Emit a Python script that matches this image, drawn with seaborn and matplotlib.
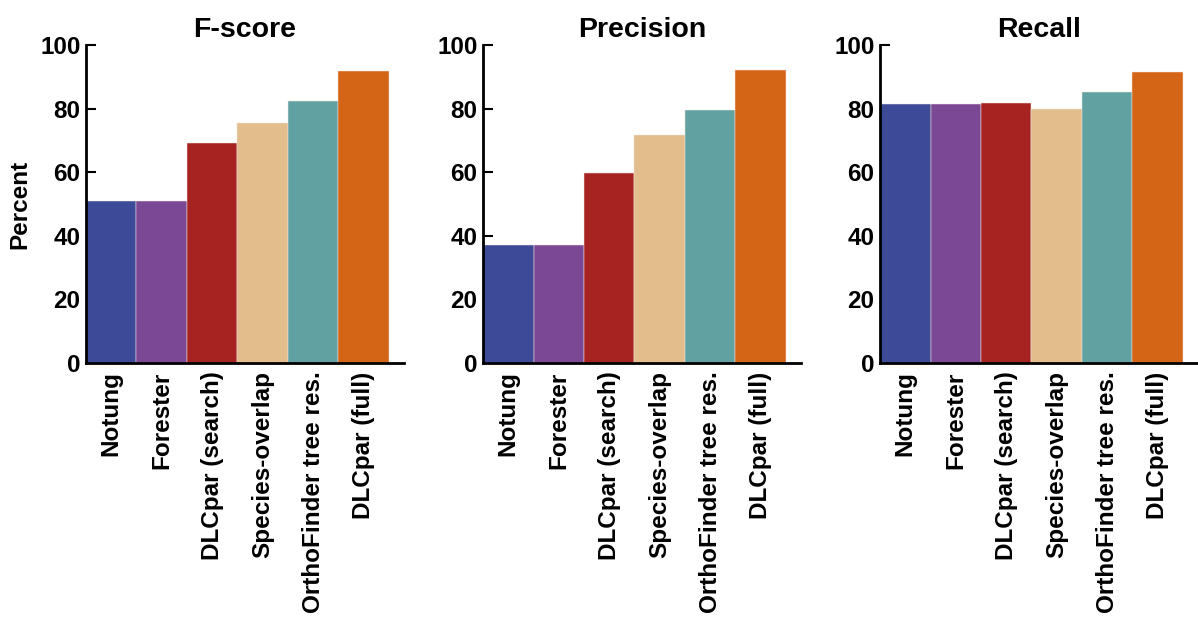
import pandas as pd
import matplotlib
matplotlib.use('Agg')
import matplotlib.pyplot as plt
import seaborn as sns

methods = ['Notung', 'Forester', 'DLCpar (search)', 'Species-overlap',
           'OrthoFinder tree res.', 'DLCpar (full)']
fscore = [50.9, 50.9, 69.1, 75.6, 82.3, 91.9]
precision = [37.1, 37.1, 59.8, 71.7, 79.6, 92.3]
recall = [81.4, 81.4, 81.7, 80.0, 85.3, 91.6]
titles = ['F-score', 'Precision', 'Recall']
colors = ['#3d4a98', '#7b4896', '#a62322', '#e3bd8c', '#62a1a2', '#d46416']

sns.set_style('white')
plt.rcParams['font.family'] = ['Liberation Sans', 'DejaVu Sans']
plt.rcParams['font.weight'] = 'bold'
plt.rcParams['text.color'] = 'black'
plt.rcParams['axes.labelcolor'] = 'black'
plt.rcParams['xtick.color'] = 'black'
plt.rcParams['ytick.color'] = 'black'

fig = plt.figure(figsize=(11.98, 6.28), dpi=100)
lefts = [0.0718, 0.4032, 0.7346]

for i, (vals, title) in enumerate(zip([fscore, precision, recall], titles)):
    ax = fig.add_axes([lefts[i], 0.422, 0.2654, 0.506])
    df = pd.DataFrame({'method': methods, 'value': vals})
    sns.barplot(data=df, x='method', y='value', hue='method', palette=colors,
                width=1.0, legend=False, edgecolor='#f3e6dc', linewidth=0.35,
                saturation=1, ax=ax)
    ax.set_xlim(-0.5, 5.8)
    ax.set_ylim(0, 100)
    ax.set_yticks([0, 20, 40, 60, 80, 100])
    ax.set_title(title, fontsize=20.5, fontweight='bold', pad=6, color='black')
    ax.set_xlabel('')
    ax.set_ylabel('Percent' if i == 0 else '', fontsize=17.5, fontweight='bold',
                  labelpad=6)
    ax.tick_params(axis='y', direction='in', length=7, width=1.5, labelsize=17.5,
                   pad=4, left=True)
    ax.tick_params(axis='x', length=0, labelsize=17.5, labelrotation=90, pad=6)
    for lab in ax.get_xticklabels() + ax.get_yticklabels():
        lab.set_fontweight('bold')
    for s in ['top', 'right']:
        ax.spines[s].set_visible(False)
    for s in ['left', 'bottom']:
        ax.spines[s].set_linewidth(2)
        ax.spines[s].set_color('black')
        ax.spines[s].set_zorder(5)

plt.savefig('out.png', dpi=100)
